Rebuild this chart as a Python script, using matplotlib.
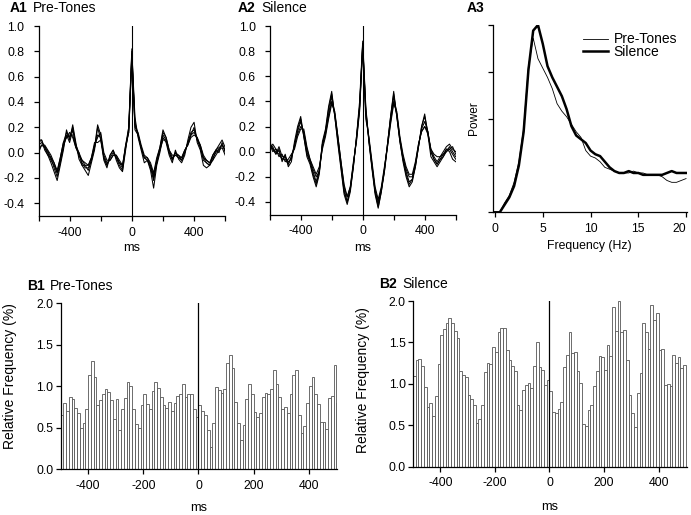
import numpy as np
import matplotlib
matplotlib.use("Agg")
from matplotlib import pyplot as plt

plt.rcParams['font.family'] = ['Liberation Sans', 'DejaVu Sans']
plt.rcParams['axes.unicode_minus'] = False
plt.rcParams['font.size'] = 8.8

# ---- A1 / A2: autocorrelation traces (lag in ms) ----
lags = np.arange(-600, 601, 20)

a1_traces = [
    [0.08, 0.10, 0.02, -0.02, -0.08, -0.15, -0.22, -0.10, 0.02, 0.18,
     0.10, 0.22, 0.08, -0.05, -0.10, -0.14, -0.18, -0.08, 0.02, 0.20,
     0.10, -0.06, -0.12, -0.02, 0.02, -0.06, -0.12, -0.15, 0.02, 0.20,
     0.80, 0.28, 0.12, 0.02, -0.08, -0.06, -0.14, -0.28, -0.10, 0.00,
     0.12, 0.08, -0.02, -0.08, 0.02, -0.05, -0.08, -0.02, 0.10, 0.20,
     0.24, 0.08, 0.02, -0.10, -0.12, -0.10, -0.06, -0.02, 0.02, 0.04,
     -0.02],
    [0.02, 0.06, 0.06, 0.02, -0.02, -0.08, -0.14, -0.04, 0.08, 0.12,
     0.16, 0.12, 0.04, 0.00, -0.06, -0.08, -0.10, -0.04, 0.06, 0.12,
     0.16, 0.00, -0.06, -0.06, -0.02, -0.02, -0.06, -0.10, 0.06, 0.16,
     0.76, 0.20, 0.16, 0.06, -0.02, -0.04, -0.08, -0.16, -0.04, 0.04,
     0.18, 0.12, 0.02, -0.02, -0.02, -0.02, -0.04, 0.02, 0.06, 0.12,
     0.14, 0.12, 0.06, -0.02, -0.06, -0.08, -0.02, 0.02, 0.06, 0.10,
     0.04],
    [0.06, 0.08, 0.05, 0.01, -0.04, -0.12, -0.19, -0.08, 0.04, 0.14,
     0.08, 0.18, 0.06, -0.02, -0.08, -0.12, -0.12, -0.06, 0.04, 0.22,
     0.14, -0.04, -0.10, -0.04, 0.00, -0.04, -0.10, -0.14, 0.04, 0.18,
     0.78, 0.24, 0.14, 0.04, -0.04, -0.06, -0.12, -0.22, -0.08, 0.02,
     0.10, 0.10, 0.00, -0.05, 0.00, -0.02, -0.06, 0.00, 0.08, 0.16,
     0.18, 0.10, 0.04, -0.06, -0.08, -0.10, -0.04, 0.00, 0.03, 0.06,
     0.02],
    [0.00, 0.06, 0.04, -0.02, -0.04, -0.08, -0.16, -0.06, 0.06, 0.12,
     0.14, 0.14, 0.04, -0.02, -0.06, -0.10, -0.10, -0.04, 0.08, 0.08,
     0.10, -0.02, -0.08, -0.06, -0.02, -0.02, -0.08, -0.10, 0.04, 0.16,
     0.74, 0.22, 0.14, 0.04, -0.04, -0.04, -0.10, -0.18, -0.06, 0.04,
     0.16, 0.12, 0.02, -0.04, -0.02, -0.04, -0.04, 0.02, 0.06, 0.14,
     0.16, 0.12, 0.04, -0.04, -0.06, -0.08, -0.06, 0.02, 0.04, 0.06,
     0.02],
    [0.10, 0.10, 0.04, 0.00, -0.06, -0.10, -0.16, -0.04, 0.08, 0.16,
     0.12, 0.20, 0.06, 0.00, -0.10, -0.10, -0.14, -0.06, 0.04, 0.14,
     0.12, -0.04, -0.10, -0.02, 0.02, -0.04, -0.08, -0.12, 0.06, 0.20,
     0.82, 0.18, 0.14, 0.04, -0.04, -0.06, -0.10, -0.20, -0.08, 0.02,
     0.14, 0.10, 0.00, -0.06, 0.00, -0.04, -0.06, 0.00, 0.08, 0.14,
     0.20, 0.10, 0.06, -0.04, -0.08, -0.10, -0.02, 0.02, 0.00, 0.08,
     0.00],
]

a2_traces = [
    [0.08, 0.02, -0.02, 0.02, -0.08, -0.02, -0.12, -0.08, 0.08, 0.20,
     0.28, 0.12, -0.04, -0.10, -0.20, -0.28, -0.18, 0.08, 0.18, 0.36,
     0.48, 0.28, 0.06, -0.14, -0.34, -0.42, -0.32, -0.12, 0.12, 0.40,
     0.88, 0.36, 0.08, -0.14, -0.34, -0.45, -0.32, -0.16, 0.06, 0.28,
     0.48, 0.28, 0.08, -0.08, -0.20, -0.28, -0.24, -0.12, 0.04, 0.20,
     0.30, 0.14, -0.04, -0.08, -0.12, -0.08, -0.04, 0.02, 0.00, -0.06,
     -0.08],
    [0.02, 0.06, 0.02, -0.04, -0.02, -0.08, -0.06, -0.02, 0.02, 0.12,
     0.18, 0.18, 0.04, -0.06, -0.12, -0.18, -0.12, 0.02, 0.12, 0.26,
     0.38, 0.32, 0.12, -0.08, -0.26, -0.36, -0.28, -0.08, 0.08, 0.32,
     0.82, 0.26, 0.12, -0.08, -0.28, -0.38, -0.28, -0.12, 0.04, 0.22,
     0.38, 0.32, 0.12, -0.02, -0.12, -0.18, -0.18, -0.08, 0.06, 0.16,
     0.20, 0.16, 0.02, -0.02, -0.04, -0.04, 0.00, 0.04, 0.06, 0.02,
     0.00],
    [0.06, 0.00, 0.02, 0.00, -0.06, -0.06, -0.10, -0.04, 0.04, 0.16,
     0.24, 0.14, 0.00, -0.08, -0.16, -0.24, -0.14, 0.06, 0.16, 0.30,
     0.44, 0.30, 0.10, -0.10, -0.30, -0.40, -0.30, -0.10, 0.10, 0.36,
     0.86, 0.30, 0.10, -0.10, -0.32, -0.42, -0.30, -0.14, 0.06, 0.26,
     0.44, 0.30, 0.10, -0.06, -0.16, -0.24, -0.22, -0.10, 0.04, 0.18,
     0.24, 0.16, 0.00, -0.06, -0.10, -0.06, -0.02, 0.00, 0.04, 0.00,
     -0.04],
    [0.04, 0.04, -0.02, 0.04, -0.04, -0.04, -0.08, -0.06, 0.06, 0.14,
     0.20, 0.16, 0.02, -0.06, -0.14, -0.20, -0.16, 0.04, 0.14, 0.28,
     0.40, 0.30, 0.12, -0.08, -0.28, -0.36, -0.28, -0.10, 0.10, 0.34,
     0.84, 0.32, 0.10, -0.12, -0.30, -0.40, -0.30, -0.16, 0.04, 0.24,
     0.40, 0.30, 0.10, -0.04, -0.14, -0.20, -0.20, -0.10, 0.06, 0.16,
     0.20, 0.14, 0.02, -0.04, -0.08, -0.04, -0.02, 0.02, 0.02, 0.04,
     -0.02],
    [0.06, 0.02, 0.00, -0.02, -0.06, -0.04, -0.10, -0.04, 0.04, 0.18,
     0.26, 0.12, -0.02, -0.08, -0.18, -0.26, -0.16, 0.06, 0.16, 0.34,
     0.46, 0.28, 0.08, -0.12, -0.32, -0.40, -0.30, -0.12, 0.12, 0.36,
     0.86, 0.34, 0.08, -0.12, -0.32, -0.44, -0.32, -0.14, 0.06, 0.28,
     0.46, 0.28, 0.08, -0.06, -0.18, -0.26, -0.22, -0.12, 0.04, 0.20,
     0.28, 0.16, 0.00, -0.06, -0.10, -0.06, -0.04, 0.00, 0.02, -0.02,
     -0.06],
]

# ---- A3: power spectra ----
freqs = np.arange(0, 20.01, 0.5)
power_pre = [0.00, 0.00, 0.05, 0.09, 0.16, 0.27, 0.45, 0.78, 0.93, 0.82,
             0.77, 0.72, 0.66, 0.58, 0.54, 0.51, 0.47, 0.43, 0.40, 0.33,
             0.30, 0.29, 0.27, 0.24, 0.23, 0.22, 0.21, 0.21, 0.21, 0.22,
             0.21, 0.21, 0.20, 0.20, 0.20, 0.19, 0.17, 0.16, 0.16, 0.17,
             0.18]
power_sil = [0.00, 0.00, 0.04, 0.08, 0.14, 0.25, 0.43, 0.76, 0.97, 1.00,
             0.90, 0.78, 0.72, 0.67, 0.62, 0.55, 0.46, 0.41, 0.39, 0.37,
             0.33, 0.31, 0.30, 0.27, 0.24, 0.22, 0.21, 0.21, 0.22, 0.21,
             0.21, 0.20, 0.20, 0.20, 0.20, 0.20, 0.21, 0.22, 0.21, 0.21,
             0.21]

# ---- B1 / B2: interval histograms, 10 ms bins from -500 ms ----
b1_edges = np.arange(-500, 510, 10)
b1_freq = [0.65, 0.80, 0.70, 0.87, 0.85, 0.74, 0.67, 0.50, 0.55, 0.72,
           1.14, 1.30, 1.11, 0.77, 0.83, 0.90, 0.97, 0.93, 0.83, 0.60,
           0.84, 0.47, 0.73, 0.86, 1.05, 1.00, 0.73, 0.54, 0.50, 0.77,
           0.90, 0.78, 0.73, 0.94, 1.05, 0.98, 0.87, 0.77, 0.74, 0.81,
           0.70, 0.80, 0.88, 0.90, 1.03, 0.87, 0.91, 0.90, 0.73, 0.63,
           0.77, 0.70, 0.65, 0.47, 0.27, 0.55, 0.99, 0.95, 0.92, 0.96,
           1.28, 1.38, 1.22, 0.81, 0.55, 0.35, 0.53, 0.84, 1.03, 0.90,
           0.69, 0.63, 0.68, 0.87, 0.92, 0.90, 0.96, 1.19, 1.03, 0.87,
           0.73, 0.75, 0.68, 0.90, 1.14, 1.20, 0.65, 0.44, 0.52, 0.80,
           1.00, 1.11, 0.90, 0.78, 0.57, 0.57, 0.48, 0.86, 0.88, 1.25,
           0.80]

b2_edges = np.arange(-500, 500, 10)
b2_freq = [1.10, 1.29, 1.30, 1.22, 0.96, 0.72, 0.77, 0.61, 0.85, 1.24,
           1.59, 1.66, 1.73, 1.79, 1.73, 1.64, 1.55, 1.15, 1.11, 1.08,
           0.86, 0.82, 0.75, 0.53, 0.57, 0.74, 1.14, 1.25, 1.24, 1.44,
           1.38, 1.63, 1.67, 1.67, 1.41, 1.29, 1.21, 1.15, 0.74, 0.68,
           0.93, 0.99, 1.01, 0.95, 1.21, 1.50, 1.20, 1.17, 0.99, 1.05,
           0.91, 0.66, 0.65, 0.70, 0.78, 1.20, 1.35, 1.63, 1.37, 1.39,
           1.15, 1.01, 0.52, 0.49, 0.68, 0.74, 0.97, 1.15, 1.34, 1.33,
           1.17, 1.47, 1.34, 1.93, 1.64, 2.00, 1.62, 1.65, 1.29, 0.87,
           0.65, 0.48, 0.89, 1.13, 1.73, 1.63, 1.42, 1.95, 1.77, 1.86,
           1.41, 1.42, 0.99, 1.00, 0.97, 1.35, 1.25, 1.33, 1.19, 1.23]

W, H = 691, 515
fig = plt.figure(figsize=(W / 100, H / 100), dpi=100)


def px_axes(x0, y0, x1, y1):
    # axes from a pixel box (left, top, right, bottom)
    return fig.add_axes([x0 / W, 1 - y1 / H, (x1 - x0) / W, (y1 - y0) / H])


def style(ax, ypad=5):
    for s in ['top', 'right']:
        ax.spines[s].set_visible(False)
    for s in ['left', 'bottom']:
        ax.spines[s].set_linewidth(0.9)
    ax.tick_params(direction='out', length=3.6, width=0.9)
    ax.tick_params(axis='x', pad=4)
    ax.tick_params(axis='y', pad=ypad)


def set_labels(ax, xlabel, xpos, ylabel=None, ypos=None, xsize=9.2, ysize=10):
    ax.set_xlabel(xlabel, fontsize=xsize)
    ax.xaxis.set_label_coords(*xpos)
    ax.xaxis.label.set_va('center')
    if ylabel:
        ax.set_ylabel(ylabel, fontsize=ysize)
        ax.yaxis.set_label_coords(*ypos)
        ax.yaxis.label.set_va('center')


def panel_title(x, y, tag, text=None):
    fig.text(x / W, 1 - y / H, tag, fontsize=10, fontweight='bold', va='center')
    if text:
        fig.text((x + 23) / W, 1 - y / H, text, fontsize=10, va='center')


# A1 and A2
a_boxes = [(38.5, 26, 225.2, 216), (269.7, 26, 455.7, 214.5)]
for box, traces, ylab in zip(a_boxes, [a1_traces, a2_traces], [-0.168, -0.178]):
    ax = px_axes(*box)
    style(ax, ypad=6.5)
    for tr in traces:
        ax.plot(lags, tr, color='black', lw=0.75)
    ax.axvline(0, color='black', lw=0.8)
    ax.set_xlim(-600, 600)
    ax.set_ylim(-0.5, 1.0)
    ax.set_xticks([-600, -400, -200, 0, 200, 400, 600])
    ax.set_xticklabels(['', '-400', '', '0', '', '400', ''])
    yt = [-0.4, -0.2, 0.0, 0.2, 0.4, 0.6, 0.8, 1.0]
    ax.set_yticks(yt)
    ax.set_yticklabels(['%.1f' % v for v in yt])
    set_labels(ax, 'ms', (0.5, ylab))

# A3
ax3 = px_axes(492.6, 25, 687, 212.3)
style(ax3)
ax3.plot(freqs, power_pre, color='black', lw=0.6, label='Pre-Tones')
ax3.plot(freqs, power_sil, color='black', lw=1.8, label='Silence')
ax3.set_xlim(-0.25, 20.1)
ax3.set_ylim(0, 1.0)
ax3.set_xticks([0, 5, 10, 15, 20])
ax3.set_yticks([0, 0.25, 0.5, 0.75, 1.0])
ax3.set_yticklabels([])
ax3.get_xticklabels()[-1].set_ha('right')
set_labels(ax3, 'Frequency (Hz)', (0.5, -0.18), 'Power', (-0.096, 0.503),
           xsize=8.8, ysize=8.6)
ax3.legend(loc='upper left', bbox_to_anchor=(0.465, 0.96), frameon=False,
           borderpad=0, borderaxespad=0, handlelength=1.8, handletextpad=0.4,
           labelspacing=-0.1, fontsize=10)

# B1 and B2
b_boxes = [(60.5, 303.3, 337, 469), (413, 301, 687, 466.7)]
b_sets = [(b1_edges, b1_freq, (-500, 502), -0.235, 0.56),
          (b2_edges, b2_freq, (-500, 504), -0.243, 0.52)]
for box, (edges, vals, xr, xl_y, yl_y) in zip(b_boxes, b_sets):
    ax = px_axes(*box)
    style(ax, ypad=1.5)
    ax.bar(edges, vals, width=10, align='edge', facecolor='white',
           edgecolor='#555555', linewidth=0.6)
    ax.axvline(0, color='black', lw=0.9)
    ax.set_xlim(*xr)
    ax.set_ylim(0, 2.0)
    ax.set_xticks([-400, -200, 0, 200, 400])
    ax.set_yticks([0.0, 0.5, 1.0, 1.5, 2.0])
    ax.set_yticklabels(['0.0', '0.5', '1.0', '1.5', '2.0'])
    set_labels(ax, 'ms', (0.5, xl_y), 'Relative Frequency (%)', (-0.182, yl_y))

panel_title(10, 8, 'A1', 'Pre-Tones')
panel_title(238, 8, 'A2', 'Silence')
panel_title(467, 8, 'A3')
panel_title(26.7, 285.7, 'B1', 'Pre-Tones')
panel_title(379, 284, 'B2', 'Silence')

fig.savefig('out.png', dpi=100)
